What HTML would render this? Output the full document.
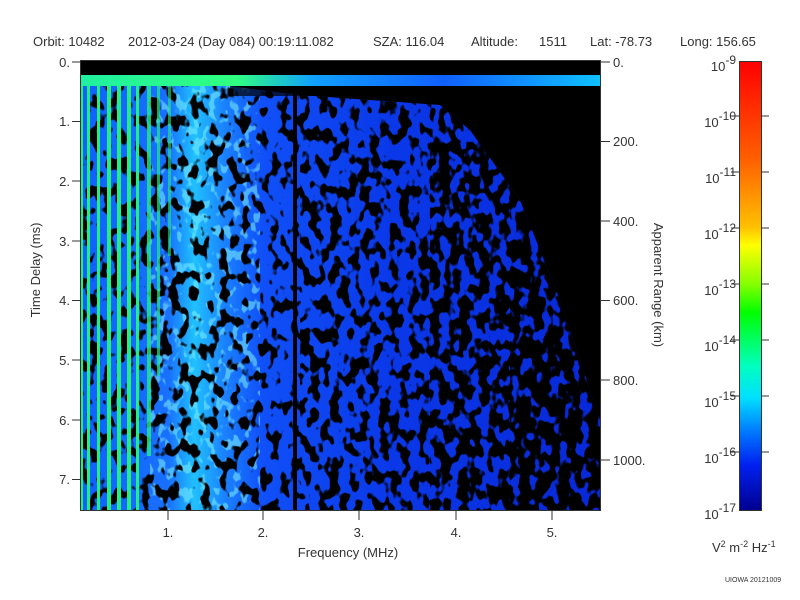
<!DOCTYPE html>
<html><head><meta charset="utf-8"><style>
html,body{margin:0;padding:0;background:#fff}
svg{display:block}
text{font-family:"Liberation Sans",sans-serif;fill:#333}
</style></head><body>
<svg width="800" height="600" viewBox="0 0 800 600" xmlns="http://www.w3.org/2000/svg">
<defs>
<linearGradient id="bg" x1="80" y1="0" x2="600" y2="0" gradientUnits="userSpaceOnUse">
<stop offset="0" stop-color="#1060ff"/>
<stop offset="0.17" stop-color="#1870ff"/>
<stop offset="0.22" stop-color="#20c0ff"/>
<stop offset="0.28" stop-color="#1a80ff"/>
<stop offset="0.35" stop-color="#1050f8"/>
<stop offset="0.6" stop-color="#0a38e8"/>
<stop offset="1" stop-color="#0828d8"/>
</linearGradient>
<linearGradient id="band" x1="80" y1="0" x2="600" y2="0" gradientUnits="userSpaceOnUse">
<stop offset="0" stop-color="#20f0a0"/>
<stop offset="0.3" stop-color="#30ff80"/>
<stop offset="0.45" stop-color="#10a0ff"/>
<stop offset="0.7" stop-color="#1060ff"/>
<stop offset="1" stop-color="#10c0ff"/>
</linearGradient>
<linearGradient id="cb" x1="0" y1="61" x2="0" y2="510" gradientUnits="userSpaceOnUse">
<stop offset="0" stop-color="#ff0000"/>
<stop offset="0.22" stop-color="#ff6000"/>
<stop offset="0.37" stop-color="#ffc000"/>
<stop offset="0.41" stop-color="#ffff00"/>
<stop offset="0.5" stop-color="#80ff00"/>
<stop offset="0.56" stop-color="#00ff00"/>
<stop offset="0.68" stop-color="#00ffc0"/>
<stop offset="0.75" stop-color="#00e0ff"/>
<stop offset="0.82" stop-color="#0080ff"/>
<stop offset="0.9" stop-color="#0020f0"/>
<stop offset="1" stop-color="#000090"/>
</linearGradient>
<clipPath id="reg"><polygon points="80,86 230,86 300,95 440,105 470,130 520,200 560,300 600,420 600,510 80,510"/></clipPath>
<filter id="n1" x="0" y="0" width="1" height="1">
<feTurbulence type="fractalNoise" baseFrequency="0.1 0.07" numOctaves="2" seed="3"/>
<feColorMatrix type="matrix" values="0 0 0 0 0  0 0 0 0 0  0 0 0 0 0  -14 0 0 0 6.6"/>
</filter>
<filter id="n2" x="0" y="0" width="1" height="1">
<feTurbulence type="fractalNoise" baseFrequency="0.1 0.07" numOctaves="2" seed="3"/>
<feColorMatrix type="matrix" values="0 0 0 0 0  0 0 0 0 0  0 0 0 0 0  -14 0 0 0 6.3"/>
</filter>
<filter id="n3" x="0" y="0" width="1" height="1">
<feTurbulence type="fractalNoise" baseFrequency="0.1 0.07" numOctaves="2" seed="3"/>
<feColorMatrix type="matrix" values="0 0 0 0 0  0 0 0 0 0  0 0 0 0 0  -14 0 0 0 7.0"/>
</filter>
<filter id="n4" x="0" y="0" width="1" height="1">
<feTurbulence type="fractalNoise" baseFrequency="0.1 0.07" numOctaves="2" seed="3"/>
<feColorMatrix type="matrix" values="0 0 0 0 0  0 0 0 0 0  0 0 0 0 0  -14 0 0 0 7.8"/>
</filter>
<filter id="n5" x="0" y="0" width="1" height="1">
<feTurbulence type="fractalNoise" baseFrequency="0.1 0.07" numOctaves="2" seed="3"/>
<feColorMatrix type="matrix" values="0 0 0 0 0  0 0 0 0 0  0 0 0 0 0  -14 0 0 0 8.6"/>
</filter>
<filter id="nz2" x="0" y="0" width="1" height="1">
<feTurbulence type="fractalNoise" baseFrequency="0.12 0.08" numOctaves="2" seed="7"/>
<feColorMatrix type="matrix" values="0 0 0 0 0.2  0 0 0 0 0.9  0 0 0 0 1  12 0 0 0 -6.6"/>
</filter>
</defs>
<rect x="80" y="60" width="520" height="450" fill="#000"/>
<g clip-path="url(#reg)">
<rect x="80" y="60" width="520" height="450" fill="url(#bg)"/>
<rect x="150" y="60" width="110" height="450" filter="url(#nz2)" opacity="0.55"/>
<rect x="80" y="60" width="100" height="450" filter="url(#n1)"/>
<rect x="180" y="60" width="120" height="450" filter="url(#n2)"/>
<rect x="300" y="60" width="130" height="450" filter="url(#n3)"/>
<rect x="430" y="60" width="80" height="450" filter="url(#n4)"/>
<rect x="510" y="60" width="90" height="450" filter="url(#n5)"/>
</g>
<g fill="#20f080">
<rect x="80" y="76" width="3" height="434"/>
<rect x="87" y="76" width="3" height="434"/>
<rect x="97" y="76" width="3" height="434"/>
<rect x="107" y="76" width="4" height="434"/>
<rect x="117" y="76" width="4" height="434"/>
<rect x="127" y="76" width="4" height="434"/>
<rect x="136" y="76" width="3" height="434"/>
<rect x="147" y="76" width="4" height="380" opacity="0.8"/>
<rect x="157" y="76" width="3" height="300" opacity="0.7"/>
<rect x="168" y="76" width="3" height="180" opacity="0.6"/>
</g>
<rect x="80" y="75" width="520" height="11" fill="url(#band)"/>
<rect x="230" y="86" width="210" height="10" fill="#000" opacity="0.7"/>
<rect x="293" y="86" width="4" height="424" fill="#000"/>
<g stroke="#333" stroke-width="1" fill="none">
<rect x="80.5" y="60.5" width="520" height="450"/>
</g>
<g stroke="#333" stroke-width="1">
<line x1="72" y1="62" x2="80" y2="62"/><line x1="72" y1="121.5" x2="80" y2="121.5"/><line x1="72" y1="181" x2="80" y2="181"/><line x1="72" y1="241" x2="80" y2="241"/><line x1="72" y1="300.5" x2="80" y2="300.5"/><line x1="72" y1="360" x2="80" y2="360"/><line x1="72" y1="420" x2="80" y2="420"/><line x1="72" y1="479.5" x2="80" y2="479.5"/>
<line x1="600" y1="62" x2="610" y2="62"/><line x1="600" y1="141.5" x2="610" y2="141.5"/><line x1="600" y1="221" x2="610" y2="221"/><line x1="600" y1="300.5" x2="610" y2="300.5"/><line x1="600" y1="380" x2="610" y2="380"/><line x1="600" y1="460" x2="610" y2="460"/>
<line x1="168" y1="510" x2="168" y2="520"/><line x1="263" y1="510" x2="263" y2="520"/><line x1="359" y1="510" x2="359" y2="520"/><line x1="456" y1="510" x2="456" y2="520"/><line x1="552" y1="510" x2="552" y2="520"/>
</g>
<g font-size="13" text-anchor="end">
<text x="70" y="67">0.</text><text x="70" y="126">1.</text><text x="70" y="186">2.</text><text x="70" y="246">3.</text><text x="70" y="305">4.</text><text x="70" y="365">5.</text><text x="70" y="425">6.</text><text x="70" y="484">7.</text>
</g>
<g font-size="13">
<text x="613" y="67">0.</text><text x="613" y="146">200.</text><text x="613" y="226">400.</text><text x="613" y="305">600.</text><text x="613" y="385">800.</text><text x="613" y="465">1000.</text>
</g>
<g font-size="13" text-anchor="middle">
<text x="168" y="537">1.</text><text x="263" y="537">2.</text><text x="359" y="537">3.</text><text x="456" y="537">4.</text><text x="552" y="537">5.</text>
<text x="348" y="557">Frequency (MHz)</text>
</g>
<text font-size="13" text-anchor="middle" transform="translate(40,270) rotate(-90)">Time Delay (ms)</text>
<text font-size="13" text-anchor="middle" transform="translate(654,285) rotate(90)">Apparent Range (km)</text>
<g font-size="13">
<text x="33" y="46">Orbit: 10482</text>
<text x="128" y="46">2012-03-24 (Day 084) 00:19:11.082</text>
<text x="373" y="46">SZA: 116.04</text>
<text x="471" y="46">Altitude:</text>
<text x="539" y="46">1511</text>
<text x="590" y="46">Lat: -78.73</text>
<text x="680" y="46">Long: 156.65</text>
</g>
<rect x="739.5" y="61.5" width="22" height="449" fill="url(#cb)" stroke="#333"/>
<g stroke="#333"><line x1="731" y1="116" x2="739" y2="116"/><line x1="731" y1="172" x2="739" y2="172"/><line x1="731" y1="228" x2="739" y2="228"/><line x1="731" y1="284" x2="739" y2="284"/><line x1="731" y1="340" x2="739" y2="340"/><line x1="731" y1="396" x2="739" y2="396"/><line x1="731" y1="452" x2="739" y2="452"/><line x1="761" y1="116" x2="769" y2="116"/><line x1="761" y1="172" x2="769" y2="172"/><line x1="761" y1="228" x2="769" y2="228"/><line x1="761" y1="284" x2="769" y2="284"/><line x1="761" y1="340" x2="769" y2="340"/><line x1="761" y1="396" x2="769" y2="396"/><line x1="761" y1="452" x2="769" y2="452"/></g>
<g font-size="13" text-anchor="end">
<text x="736" y="71">10<tspan dy="-7" font-size="12">-9</tspan></text>
<text x="736" y="127">10<tspan dy="-7" font-size="12">-10</tspan></text>
<text x="736" y="183">10<tspan dy="-7" font-size="12">-11</tspan></text>
<text x="736" y="239">10<tspan dy="-7" font-size="12">-12</tspan></text>
<text x="736" y="295">10<tspan dy="-7" font-size="12">-13</tspan></text>
<text x="736" y="351">10<tspan dy="-7" font-size="12">-14</tspan></text>
<text x="736" y="407">10<tspan dy="-7" font-size="12">-15</tspan></text>
<text x="736" y="463">10<tspan dy="-7" font-size="12">-16</tspan></text>
<text x="736" y="519">10<tspan dy="-7" font-size="12">-17</tspan></text>
</g>
<text x="712" y="552" font-size="13">V<tspan dy="-5" font-size="9">2</tspan><tspan dy="5"> m</tspan><tspan dy="-5" font-size="9">-2</tspan><tspan dy="5"> Hz</tspan><tspan dy="-5" font-size="9">-1</tspan></text>
<text x="725" y="582" font-size="7">UIOWA 20121009</text>
</svg>
</body></html>
